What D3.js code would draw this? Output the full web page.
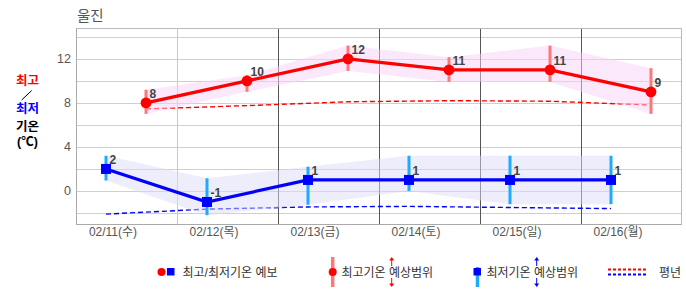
<!DOCTYPE html>
<html><head><meta charset="utf-8">
<script src="https://cdn.jsdelivr.net/npm/d3@7"></script>
<style>
html,body{margin:0;padding:0;background:#fff;}
svg{display:block;}
text{font-family:"Liberation Sans",Arial,"Noto Sans CJK KR",sans-serif;}
</style></head>
<body><svg id="c" width="686" height="295"></svg>
<script>
const title = "울진";
const days = ["02/11(수)","02/12(목)","02/13(금)","02/14(토)","02/15(일)","02/16(월)"];
const highVals = [8,10,12,11,11,9];
const highUpper = [9.2,10.5,13.2,12.15,13.2,11.15];
const highLower = [7.0,9.0,10.9,9.9,9.9,7.0];
const lowVals = [2,-1,1,1,1,1];
const lowUpper = [3.2,1.15,2.2,3.2,3.2,3.2];
const lowLower = [0.95,-2.2,-1.25,0,-1.2,-1.2];
const normalHigh = [7.45,7.75,8.1,8.2,8.15,7.8];
const normalLow = [-2.1,-1.65,-1.45,-1.4,-1.5,-1.6];
const yTicks = [0,4,8,12];
const yGrid = [-2,0,2,4,6,8,10,12,14];
const legendLabels = ["최고/최저기온 예보","최고기온 예상범위","최저기온 예상범위","평년"];

const svg = d3.select("#c");
const L=76, R=682, T=28, B=224;
const x = d3.scaleBand().domain(days).range([L,R]);
const y = d3.scaleLinear().domain([-3,14.8]).range([B,T]);
const xLow = d => x(d)+30, xHigh = d => x(d)+70, xLab = d => x(d)+37;

// horizontal grid
svg.append("g").selectAll("line").data(yGrid).join("line")
  .attr("x1",L).attr("x2",R)
  .attr("y1",d=>Math.round(y(d))+0.5).attr("y2",d=>Math.round(y(d))+0.5)
  .attr("stroke","#cfcfcf").attr("stroke-width",1);
// vertical grid
svg.append("g").selectAll("line").data(days.slice(1)).join("line")
  .attr("x1",d=>Math.round(x(d))+0.5).attr("x2",d=>Math.round(x(d))+0.5)
  .attr("y1",T).attr("y2",B)
  .attr("stroke",(d,i)=> i===0 ? "#c8c8c8" : "#555").attr("stroke-width",1);
// frame
svg.append("line").attr("x1",L).attr("x2",R).attr("y1",T+0.5).attr("y2",T+0.5).attr("stroke","#bbb");
svg.append("line").attr("x1",R-0.5).attr("x2",R-0.5).attr("y1",T).attr("y2",B).attr("stroke","#bbb");
svg.append("line").attr("x1",L+0.5).attr("x2",L+0.5).attr("y1",T).attr("y2",B+1).attr("stroke","#aaa");
svg.append("line").attr("x1",L).attr("x2",R).attr("y1",B+0.5).attr("y2",B+0.5).attr("stroke","#aaa");

// y tick labels
svg.append("g").selectAll("text").data(yTicks).join("text")
  .attr("x",71).attr("y",d=>y(d)).attr("dy","0.35em").attr("text-anchor","end")
  .attr("font-size",12.5).attr("fill","#555").text(d=>d);
// x labels
svg.append("g").selectAll("text").data(days).join("text")
  .attr("x",d=>xLab(d)).attr("y",236).attr("text-anchor","middle")
  .attr("font-size",12).attr("fill","#555").text(d=>d);
// title
svg.append("text").attr("x",77).attr("y",21).attr("font-size",14.5).attr("fill","#555").text(title);

// left label
const ll = svg.append("g").attr("font-weight","bold").attr("font-size",12.5).attr("text-anchor","middle");
ll.append("text").attr("x",27.5).attr("y",85).attr("fill","#f00").text("최고");
ll.append("line").attr("x1",31.7).attr("y1",90.5).attr("x2",21.7).attr("y2",100).attr("stroke","#000").attr("stroke-width",1);
ll.append("text").attr("x",27.5).attr("y",113).attr("fill","#00f").text("최저");
ll.append("text").attr("x",27.5).attr("y",131).attr("fill","#000").text("기온");
ll.append("text").attr("x",27.5).attr("y",146).attr("fill","#000").text("(℃)");

// normal dashed lines
const nh = days.map((d,i)=>[xHigh(d), y(normalHigh[i])]);
const nl = days.map((d,i)=>[xLow(d), y(normalLow[i])]);
svg.append("path").attr("d",d3.line()(nh)).attr("fill","none").attr("stroke","#f00").attr("stroke-width",1.4).attr("stroke-dasharray","5,3");
svg.append("path").attr("d",d3.line()(nl)).attr("fill","none").attr("stroke","#00f").attr("stroke-width",1.4).attr("stroke-dasharray","5,3");

// bands
const hb = d3.area().x((d,i)=>xHigh(days[i])).y0((d,i)=>y(highLower[i])).y1((d,i)=>y(highUpper[i]));
svg.append("path").attr("d",hb(days)).attr("fill","rgb(247,211,247)").attr("fill-opacity",0.5);
const lb = d3.area().x((d,i)=>xLow(days[i])).y0((d,i)=>y(lowLower[i])).y1((d,i)=>y(lowUpper[i]));
svg.append("path").attr("d",lb(days)).attr("fill","rgb(220,220,250)").attr("fill-opacity",0.5);

// error bars
svg.append("g").selectAll("line").data(days).join("line")
  .attr("x1",d=>xHigh(d)).attr("x2",d=>xHigh(d))
  .attr("y1",(d,i)=>y(highUpper[i])).attr("y2",(d,i)=>y(highLower[i]))
  .attr("stroke","#ff7878").attr("stroke-width",3);
svg.append("g").selectAll("line").data(days).join("line")
  .attr("x1",d=>xLow(d)).attr("x2",d=>xLow(d))
  .attr("y1",(d,i)=>y(lowUpper[i])).attr("y2",(d,i)=>y(lowLower[i]))
  .attr("stroke","#1eaaff").attr("stroke-width",3);

// main lines
svg.append("path").attr("d",d3.line()(days.map((d,i)=>[xHigh(d),y(highVals[i])])))
  .attr("fill","none").attr("stroke","#f00").attr("stroke-width",3.2);
svg.append("path").attr("d",d3.line()(days.map((d,i)=>[xLow(d),y(lowVals[i])])))
  .attr("fill","none").attr("stroke","#00f").attr("stroke-width",3.2);

// points
svg.append("g").selectAll("circle").data(days).join("circle")
  .attr("cx",d=>xHigh(d)).attr("cy",(d,i)=>y(highVals[i])).attr("r",5.4).attr("fill","#f00");
svg.append("g").selectAll("rect").data(days).join("rect")
  .attr("x",d=>xLow(d)-5).attr("y",(d,i)=>y(lowVals[i])-5).attr("width",10).attr("height",10).attr("fill","#00f");

// value labels
svg.append("g").selectAll("text").data(days).join("text")
  .attr("x",d=>xHigh(d)+3.5).attr("y",(d,i)=>y(highVals[i])-5)
  .attr("font-size",12).attr("font-weight","bold").attr("fill","#444").text((d,i)=>highVals[i]);
svg.append("g").selectAll("text").data(days).join("text")
  .attr("x",d=>xLow(d)+3.5).attr("y",(d,i)=>y(lowVals[i])-5)
  .attr("font-size",12).attr("font-weight","bold").attr("fill","#444").text((d,i)=>lowVals[i]);

// legend
const lg = svg.append("g").attr("font-size",12).attr("fill","#333");
const ly = 272;
lg.append("circle").attr("cx",161.5).attr("cy",ly).attr("r",4).attr("fill","#f00");
lg.append("rect").attr("x",167).attr("y",ly-4).attr("width",7.5).attr("height",7.5).attr("fill","#00f");
lg.append("text").attr("x",182.5).attr("y",277).attr("fill","#333").text(legendLabels[0]);

lg.append("line").attr("x1",332.7).attr("x2",332.7).attr("y1",257).attr("y2",287).attr("stroke","#ff7878").attr("stroke-width",3.5);
lg.append("circle").attr("cx",332.7).attr("cy",ly).attr("r",4).attr("fill","#f00");
lg.append("text").attr("x",341.5).attr("y",277).attr("fill","#333").text(legendLabels[1]);

lg.append("line").attr("x1",477.5).attr("x2",477.5).attr("y1",267).attr("y2",287).attr("stroke","#1eaaff").attr("stroke-width",3.5);
lg.append("rect").attr("x",473.5).attr("y",ly-4).attr("width",7.5).attr("height",7.5).attr("fill","#00f");
lg.append("text").attr("x",486.5).attr("y",277).attr("fill","#333").text(legendLabels[2]);

function arrows(cx,col){
  lg.append("path").attr("d",`M${cx-2.5},260.5L${cx},257L${cx+2.5},260.5Z`).attr("fill",col);
  lg.append("line").attr("x1",cx).attr("x2",cx).attr("y1",260).attr("y2",266).attr("stroke",col).attr("stroke-width",1);
  lg.append("line").attr("x1",cx).attr("x2",cx).attr("y1",278).attr("y2",284).attr("stroke",col).attr("stroke-width",1);
  lg.append("path").attr("d",`M${cx-2.5},283.5L${cx},287L${cx+2.5},283.5Z`).attr("fill",col);
}
arrows(391.7,"#f00");
arrows(536.7,"#00f");

lg.append("line").attr("x1",608).attr("x2",647).attr("y1",269.5).attr("y2",269.5).attr("stroke","#f00").attr("stroke-width",2).attr("stroke-dasharray","3,2");
lg.append("line").attr("x1",608).attr("x2",647).attr("y1",274.5).attr("y2",274.5).attr("stroke","#00f").attr("stroke-width",2).attr("stroke-dasharray","3,2");
lg.append("text").attr("x",659).attr("y",277).attr("fill","#333").text(legendLabels[3]);
</script></body></html>
